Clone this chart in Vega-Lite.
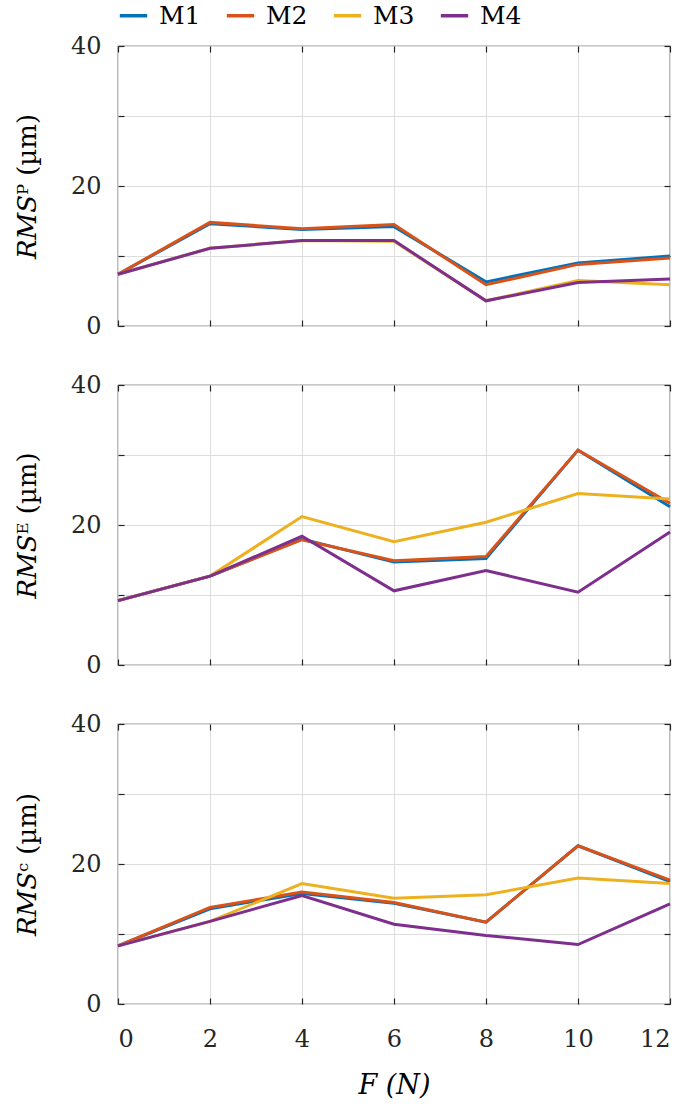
{
  "$schema": "https://vega.github.io/schema/vega-lite/v6.json",
  "padding": {"left": 13, "top": 0, "right": 12, "bottom": 3},
  "background": "white",
  "datasets": {
    "d": [
      {"p": "P", "M": "M1", "F": 0, "v": 7.4}, {"p": "P", "M": "M1", "F": 2, "v": 14.6}, {"p": "P", "M": "M1", "F": 4, "v": 13.8}, {"p": "P", "M": "M1", "F": 6, "v": 14.2}, {"p": "P", "M": "M1", "F": 8, "v": 6.3}, {"p": "P", "M": "M1", "F": 10, "v": 9.0}, {"p": "P", "M": "M1", "F": 12, "v": 10.0},
      {"p": "P", "M": "M2", "F": 0, "v": 7.4}, {"p": "P", "M": "M2", "F": 2, "v": 14.8}, {"p": "P", "M": "M2", "F": 4, "v": 13.9}, {"p": "P", "M": "M2", "F": 6, "v": 14.5}, {"p": "P", "M": "M2", "F": 8, "v": 5.9}, {"p": "P", "M": "M2", "F": 10, "v": 8.8}, {"p": "P", "M": "M2", "F": 12, "v": 9.7},
      {"p": "P", "M": "M3", "F": 0, "v": 7.4}, {"p": "P", "M": "M3", "F": 2, "v": 11.1}, {"p": "P", "M": "M3", "F": 4, "v": 12.2}, {"p": "P", "M": "M3", "F": 6, "v": 12.1}, {"p": "P", "M": "M3", "F": 8, "v": 3.6}, {"p": "P", "M": "M3", "F": 10, "v": 6.5}, {"p": "P", "M": "M3", "F": 12, "v": 5.9},
      {"p": "P", "M": "M4", "F": 0, "v": 7.4}, {"p": "P", "M": "M4", "F": 2, "v": 11.1}, {"p": "P", "M": "M4", "F": 4, "v": 12.2}, {"p": "P", "M": "M4", "F": 6, "v": 12.2}, {"p": "P", "M": "M4", "F": 8, "v": 3.6}, {"p": "P", "M": "M4", "F": 10, "v": 6.2}, {"p": "P", "M": "M4", "F": 12, "v": 6.7},
      {"p": "E", "M": "M1", "F": 0, "v": 9.2}, {"p": "E", "M": "M1", "F": 2, "v": 12.7}, {"p": "E", "M": "M1", "F": 4, "v": 18.0}, {"p": "E", "M": "M1", "F": 6, "v": 14.7}, {"p": "E", "M": "M1", "F": 8, "v": 15.2}, {"p": "E", "M": "M1", "F": 10, "v": 30.7}, {"p": "E", "M": "M1", "F": 12, "v": 22.6},
      {"p": "E", "M": "M2", "F": 0, "v": 9.2}, {"p": "E", "M": "M2", "F": 2, "v": 12.7}, {"p": "E", "M": "M2", "F": 4, "v": 17.9}, {"p": "E", "M": "M2", "F": 6, "v": 14.9}, {"p": "E", "M": "M2", "F": 8, "v": 15.5}, {"p": "E", "M": "M2", "F": 10, "v": 30.7}, {"p": "E", "M": "M2", "F": 12, "v": 23.1},
      {"p": "E", "M": "M3", "F": 0, "v": 9.2}, {"p": "E", "M": "M3", "F": 2, "v": 12.7}, {"p": "E", "M": "M3", "F": 4, "v": 21.2}, {"p": "E", "M": "M3", "F": 6, "v": 17.6}, {"p": "E", "M": "M3", "F": 8, "v": 20.4}, {"p": "E", "M": "M3", "F": 10, "v": 24.5}, {"p": "E", "M": "M3", "F": 12, "v": 23.7},
      {"p": "E", "M": "M4", "F": 0, "v": 9.2}, {"p": "E", "M": "M4", "F": 2, "v": 12.7}, {"p": "E", "M": "M4", "F": 4, "v": 18.4}, {"p": "E", "M": "M4", "F": 6, "v": 10.6}, {"p": "E", "M": "M4", "F": 8, "v": 13.5}, {"p": "E", "M": "M4", "F": 10, "v": 10.4}, {"p": "E", "M": "M4", "F": 12, "v": 19.0},
      {"p": "C", "M": "M1", "F": 0, "v": 8.3}, {"p": "C", "M": "M1", "F": 2, "v": 13.6}, {"p": "C", "M": "M1", "F": 4, "v": 15.8}, {"p": "C", "M": "M1", "F": 6, "v": 14.4}, {"p": "C", "M": "M1", "F": 8, "v": 11.7}, {"p": "C", "M": "M1", "F": 10, "v": 22.6}, {"p": "C", "M": "M1", "F": 12, "v": 17.5},
      {"p": "C", "M": "M2", "F": 0, "v": 8.3}, {"p": "C", "M": "M2", "F": 2, "v": 13.8}, {"p": "C", "M": "M2", "F": 4, "v": 16.0}, {"p": "C", "M": "M2", "F": 6, "v": 14.5}, {"p": "C", "M": "M2", "F": 8, "v": 11.7}, {"p": "C", "M": "M2", "F": 10, "v": 22.6}, {"p": "C", "M": "M2", "F": 12, "v": 17.7},
      {"p": "C", "M": "M3", "F": 0, "v": 8.3}, {"p": "C", "M": "M3", "F": 2, "v": 11.8}, {"p": "C", "M": "M3", "F": 4, "v": 17.2}, {"p": "C", "M": "M3", "F": 6, "v": 15.1}, {"p": "C", "M": "M3", "F": 8, "v": 15.6}, {"p": "C", "M": "M3", "F": 10, "v": 18.0}, {"p": "C", "M": "M3", "F": 12, "v": 17.2},
      {"p": "C", "M": "M4", "F": 0, "v": 8.3}, {"p": "C", "M": "M4", "F": 2, "v": 11.8}, {"p": "C", "M": "M4", "F": 4, "v": 15.5}, {"p": "C", "M": "M4", "F": 6, "v": 11.4}, {"p": "C", "M": "M4", "F": 8, "v": 9.8}, {"p": "C", "M": "M4", "F": 10, "v": 8.5}, {"p": "C", "M": "M4", "F": 12, "v": 14.3}
    ]
  },
  "data": {"name": "d"},
  "config": {
    "view": {"stroke": "#262626", "strokeWidth": 1.2},
    "axis": {
      "gridColor": "#dddddd", "gridWidth": 1,
      "labelFont": "DejaVu Serif", "labelFontSize": 24, "labelColor": "#262626",
      "tickColor": "#262626", "tickSize": -6, "tickWidth": 1.2,
      "domain": false,
      "titleFont": "DejaVu Serif", "titleFontSize": 26, "titleColor": "#000000", "titleFontWeight": "normal"
    },
    "concat": {"spacing": 33},
    "legend": {
      "orient": "top", "direction": "horizontal", "title": null,
      "symbolType": "stroke", "symbolStrokeWidth": 3.5, "symbolSize": 750,
      "labelFont": "DejaVu Serif", "labelFontSize": 25, "labelColor": "#000000",
      "columnPadding": 18, "labelOffset": 10, "offset": 4
    }
  },
  "vconcat": [
    {
      "width": 552, "height": 280,
      "transform": [{"filter": "datum.p == 'P'"}],
      "layer": [
        {
          "mark": {"type": "line", "strokeWidth": 3},
          "encoding": {
            "x": {"field": "F", "type": "quantitative", "scale": {"domain": [0, 12], "nice": false}, "axis": {"values": [0, 2, 4, 6, 8, 10, 12], "labels": false, "title": null}},
            "y": {"field": "v", "type": "quantitative", "scale": {"domain": [0, 40], "nice": false}, "axis": {"values": [0, 10, 20, 30, 40], "labelExpr": "datum.value % 20 == 0 ? datum.label : ''", "title": "𝑅𝑀𝑆ᴾ (µm)", "labelPadding": 23, "titlePadding": 30}},
            "color": {"field": "M", "type": "nominal", "scale": {"domain": ["M1", "M2", "M3", "M4"], "range": ["#0072BD", "#D95319", "#EDB120", "#7E2F8E"]}}
          }
        },
        {
          "mark": {"type": "line", "opacity": 0},
          "encoding": {
            "x": {"field": "F", "type": "quantitative", "axis": {"orient": "top", "values": [0, 2, 4, 6, 8, 10, 12], "labels": false, "grid": false, "title": null}},
            "y": {"field": "v", "type": "quantitative", "axis": {"orient": "right", "values": [0, 10, 20, 30, 40], "labels": false, "grid": false, "title": null}}
          }
        }
      ],
      "resolve": {"axis": {"x": "independent", "y": "independent"}}
    },
    {
      "width": 552, "height": 280,
      "transform": [{"filter": "datum.p == 'E'"}],
      "layer": [
        {
          "mark": {"type": "line", "strokeWidth": 3},
          "encoding": {
            "x": {"field": "F", "type": "quantitative", "scale": {"domain": [0, 12], "nice": false}, "axis": {"values": [0, 2, 4, 6, 8, 10, 12], "labels": false, "title": null}},
            "y": {"field": "v", "type": "quantitative", "scale": {"domain": [0, 40], "nice": false}, "axis": {"values": [0, 10, 20, 30, 40], "labelExpr": "datum.value % 20 == 0 ? datum.label : ''", "title": "𝑅𝑀𝑆ᴱ (µm)", "labelPadding": 23, "titlePadding": 30}},
            "color": {"field": "M", "type": "nominal", "scale": {"domain": ["M1", "M2", "M3", "M4"], "range": ["#0072BD", "#D95319", "#EDB120", "#7E2F8E"]}}
          }
        },
        {
          "mark": {"type": "line", "opacity": 0},
          "encoding": {
            "x": {"field": "F", "type": "quantitative", "axis": {"orient": "top", "values": [0, 2, 4, 6, 8, 10, 12], "labels": false, "grid": false, "title": null}},
            "y": {"field": "v", "type": "quantitative", "axis": {"orient": "right", "values": [0, 10, 20, 30, 40], "labels": false, "grid": false, "title": null}}
          }
        }
      ],
      "resolve": {"axis": {"x": "independent", "y": "independent"}}
    },
    {
      "width": 552, "height": 280,
      "transform": [{"filter": "datum.p == 'C'"}],
      "layer": [
        {
          "mark": {"type": "line", "strokeWidth": 3},
          "encoding": {
            "x": {"field": "F", "type": "quantitative", "scale": {"domain": [0, 12], "nice": false}, "axis": {"values": [0, 2, 4, 6, 8, 10, 12], "title": "F (N)", "titleFontStyle": "italic", "titleFontSize": 27, "labelPadding": 29, "titlePadding": 21}},
            "y": {"field": "v", "type": "quantitative", "scale": {"domain": [0, 40], "nice": false}, "axis": {"values": [0, 10, 20, 30, 40], "labelExpr": "datum.value % 20 == 0 ? datum.label : ''", "title": "𝑅𝑀𝑆ᶜ (µm)", "labelPadding": 23, "titlePadding": 30}},
            "color": {"field": "M", "type": "nominal", "scale": {"domain": ["M1", "M2", "M3", "M4"], "range": ["#0072BD", "#D95319", "#EDB120", "#7E2F8E"]}}
          }
        },
        {
          "mark": {"type": "line", "opacity": 0},
          "encoding": {
            "x": {"field": "F", "type": "quantitative", "axis": {"orient": "top", "values": [0, 2, 4, 6, 8, 10, 12], "labels": false, "grid": false, "title": null}},
            "y": {"field": "v", "type": "quantitative", "axis": {"orient": "right", "values": [0, 10, 20, 30, 40], "labels": false, "grid": false, "title": null}}
          }
        }
      ],
      "resolve": {"axis": {"x": "independent", "y": "independent"}}
    }
  ]
}
